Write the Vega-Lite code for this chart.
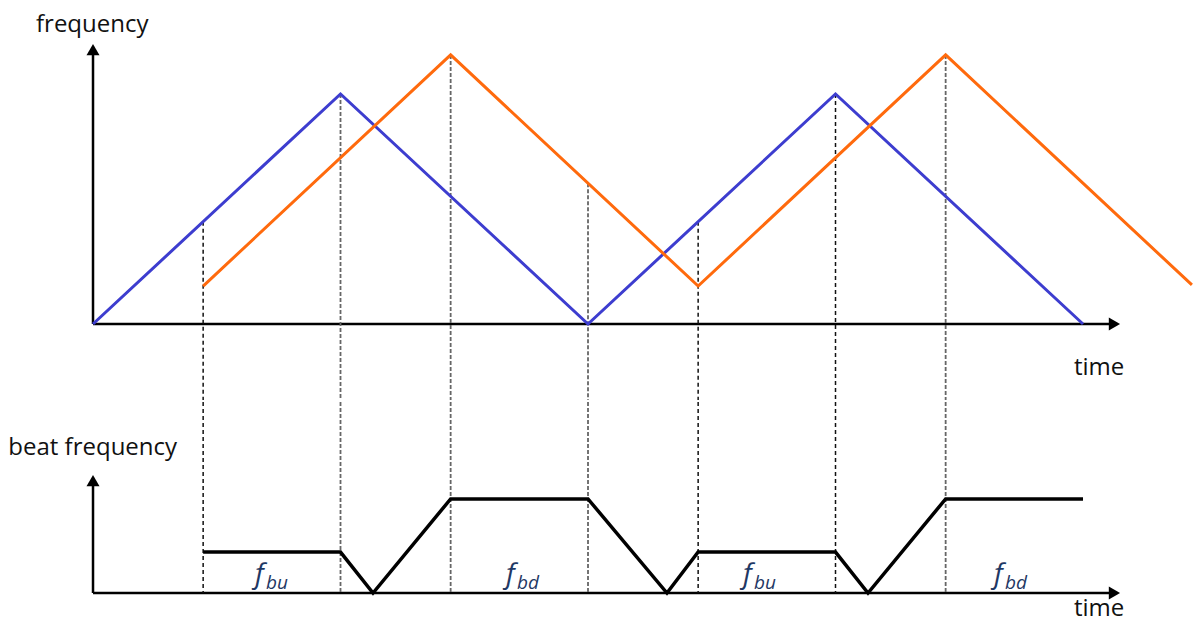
{
  "$schema": "https://vega.github.io/schema/vega-lite/v6.json",
  "padding": 0,
  "spacing": 0,
  "background": "white",
  "config": {"view": {"stroke": null}, "text": {"font": "Open Sans"}},
  "datasets": {
    "transmitted": [
      {"t": 0, "f": 0}, {"t": 1, "f": 1}, {"t": 2, "f": 0}, {"t": 3, "f": 1}, {"t": 4, "f": 0}
    ],
    "received": [
      {"t": 0.445, "f": 0.165}, {"t": 1.445, "f": 1.17}, {"t": 2.445, "f": 0.165}, {"t": 3.445, "f": 1.17}, {"t": 4.44, "f": 0.17}
    ],
    "marksBlack": [
      {"t": 0.445, "f": 0.445}, {"t": 2.445, "f": 0.445}, {"t": 3, "f": 1}
    ],
    "marksGray": [
      {"t": 1, "f": 1}, {"t": 1.445, "f": 1.17}, {"t": 2, "f": 0.612}, {"t": 3.445, "f": 1.17}
    ],
    "beat": [
      {"t": 0.445, "b": 0.178}, {"t": 1, "b": 0.178}, {"t": 1.1313, "b": 0},
      {"t": 1.445, "b": 0.409}, {"t": 2, "b": 0.409}, {"t": 2.319, "b": 0},
      {"t": 2.445, "b": 0.178}, {"t": 3, "b": 0.178}, {"t": 3.1313, "b": 0},
      {"t": 3.445, "b": 0.409}, {"t": 4, "b": 0.409}
    ],
    "beatLabels": [
      {"t": 0.6545, "b": 0.045, "sym": "f", "sub": "bu"},
      {"t": 1.6687, "b": 0.045, "sym": "f", "sub": "bd"},
      {"t": 2.6263, "b": 0.045, "sym": "f", "sub": "bu"},
      {"t": 3.6404, "b": 0.045, "sym": "f", "sub": "bd"}
    ]
  },
  "vconcat": [
    {
      "width": 1195,
      "height": 400,
      "encoding": {
        "x": {"field": "t", "type": "quantitative", "axis": null, "scale": {"domain": [-0.3758, 4.4525], "nice": false, "zero": false}},
        "y": {"field": "f", "type": "quantitative", "axis": null, "scale": {"domain": [-0.3304, 1.4087], "nice": false, "zero": false}}
      },
      "layer": [
        {
          "data": {"values": [{"t": 0, "f": 0, "t2": 0, "f2": 1.193}, {"t": 0, "f": 0, "t2": 4.127, "f2": 0}]},
          "mark": {"type": "rule", "color": "#000000", "strokeWidth": 2.5},
          "encoding": {"x2": {"field": "t2"}, "y2": {"field": "f2"}}
        },
        {
          "data": {"values": [{"t": 0, "f": 1.193}]},
          "mark": {"type": "point", "shape": "triangle-up", "filled": true, "color": "#000000", "size": 169, "opacity": 1}
        },
        {
          "data": {"values": [{"t": 4.127, "f": 0}]},
          "mark": {"type": "point", "shape": "triangle-right", "filled": true, "color": "#000000", "size": 169, "opacity": 1}
        },
        {
          "data": {"name": "marksBlack"},
          "mark": {"type": "rule", "color": "#111111", "strokeWidth": 1.5, "strokeDash": [4, 3]},
          "encoding": {"y2": {"datum": -0.3304}}
        },
        {
          "data": {"name": "marksGray"},
          "mark": {"type": "rule", "color": "#666666", "strokeWidth": 1.8, "strokeDash": [4, 2]},
          "encoding": {"y2": {"datum": -0.3304}}
        },
        {
          "data": {"name": "transmitted"},
          "mark": {"type": "line", "color": "#3d3dcf", "strokeWidth": 3, "strokeJoin": "miter"}
        },
        {
          "data": {"name": "received"},
          "mark": {"type": "line", "color": "#ff6a0d", "strokeWidth": 3, "strokeJoin": "miter"}
        },
        {
          "data": {"values": [{"t": -0.2303, "f": 1.271, "label": "frequency"}, {"t": 3.9636, "f": -0.2217, "label": "time"}]},
          "mark": {"type": "text", "align": "left", "baseline": "alphabetic", "fontSize": 24, "color": "#111111"},
          "encoding": {"text": {"field": "label"}}
        }
      ]
    },
    {
      "width": 1195,
      "height": 223,
      "encoding": {
        "x": {"field": "t", "type": "quantitative", "axis": null, "scale": {"domain": [-0.3758, 4.4525], "nice": false, "zero": false}}
      },
      "layer": [
        {
          "data": {"values": [{"t": 0, "b": 0, "t2": 0, "b2": 0.4887}, {"t": 0, "b": 0, "t2": 4.127, "b2": 0}]},
          "mark": {"type": "rule", "color": "#000000", "strokeWidth": 2.5},
          "encoding": {
            "y": {"field": "b", "type": "quantitative", "axis": null, "scale": {"domain": [-0.1391, 0.8304], "nice": false, "zero": false}},
            "x2": {"field": "t2"}, "y2": {"field": "b2"}
          }
        },
        {
          "data": {"values": [{"t": 0, "b": 0.4887}]},
          "mark": {"type": "point", "shape": "triangle-up", "filled": true, "color": "#000000", "size": 169, "opacity": 1},
          "encoding": {"y": {"field": "b", "type": "quantitative", "axis": null, "scale": {"domain": [-0.1391, 0.8304], "nice": false, "zero": false}}}
        },
        {
          "data": {"values": [{"t": 4.127, "b": 0}]},
          "mark": {"type": "point", "shape": "triangle-right", "filled": true, "color": "#000000", "size": 169, "opacity": 1},
          "encoding": {"y": {"field": "b", "type": "quantitative", "axis": null, "scale": {"domain": [-0.1391, 0.8304], "nice": false, "zero": false}}}
        },
        {
          "data": {"name": "marksBlack"},
          "mark": {"type": "rule", "color": "#111111", "strokeWidth": 1.5, "strokeDash": [4, 3]},
          "encoding": {
            "y": {"datum": 0.8304, "type": "quantitative", "axis": null, "scale": {"domain": [-0.1391, 0.8304], "nice": false, "zero": false}},
            "y2": {"datum": 0}
          }
        },
        {
          "data": {"name": "marksGray"},
          "mark": {"type": "rule", "color": "#666666", "strokeWidth": 1.8, "strokeDash": [4, 2]},
          "encoding": {
            "y": {"datum": 0.8304, "type": "quantitative", "axis": null, "scale": {"domain": [-0.1391, 0.8304], "nice": false, "zero": false}},
            "y2": {"datum": 0}
          }
        },
        {
          "data": {"name": "beat"},
          "mark": {"type": "line", "color": "#000000", "strokeWidth": 3.5, "strokeJoin": "miter"},
          "encoding": {"y": {"field": "b", "type": "quantitative", "axis": null, "scale": {"domain": [-0.1391, 0.8304], "nice": false, "zero": false}}}
        },
        {
          "data": {"name": "beatLabels"},
          "mark": {"type": "text", "align": "left", "baseline": "alphabetic", "fontSize": 28, "fontStyle": "italic", "color": "#1f3864"},
          "encoding": {
            "y": {"field": "b", "type": "quantitative", "axis": null, "scale": {"domain": [-0.1391, 0.8304], "nice": false, "zero": false}},
            "text": {"field": "sym"}
          }
        },
        {
          "data": {"name": "beatLabels"},
          "mark": {"type": "text", "align": "left", "baseline": "alphabetic", "fontSize": 19, "fontStyle": "italic", "color": "#1f3864", "dx": 11, "dy": 6},
          "encoding": {
            "y": {"field": "b", "type": "quantitative", "axis": null, "scale": {"domain": [-0.1391, 0.8304], "nice": false, "zero": false}},
            "text": {"field": "sub"}
          }
        },
        {
          "data": {"values": [{"t": -0.3422, "b": 0.5987, "label": "beat frequency"}, {"t": 3.9636, "b": -0.098, "label": "time"}]},
          "mark": {"type": "text", "align": "left", "baseline": "alphabetic", "fontSize": 24, "color": "#111111"},
          "encoding": {
            "y": {"field": "b", "type": "quantitative", "axis": null, "scale": {"domain": [-0.1391, 0.8304], "nice": false, "zero": false}},
            "text": {"field": "label"}
          }
        }
      ]
    }
  ]
}
